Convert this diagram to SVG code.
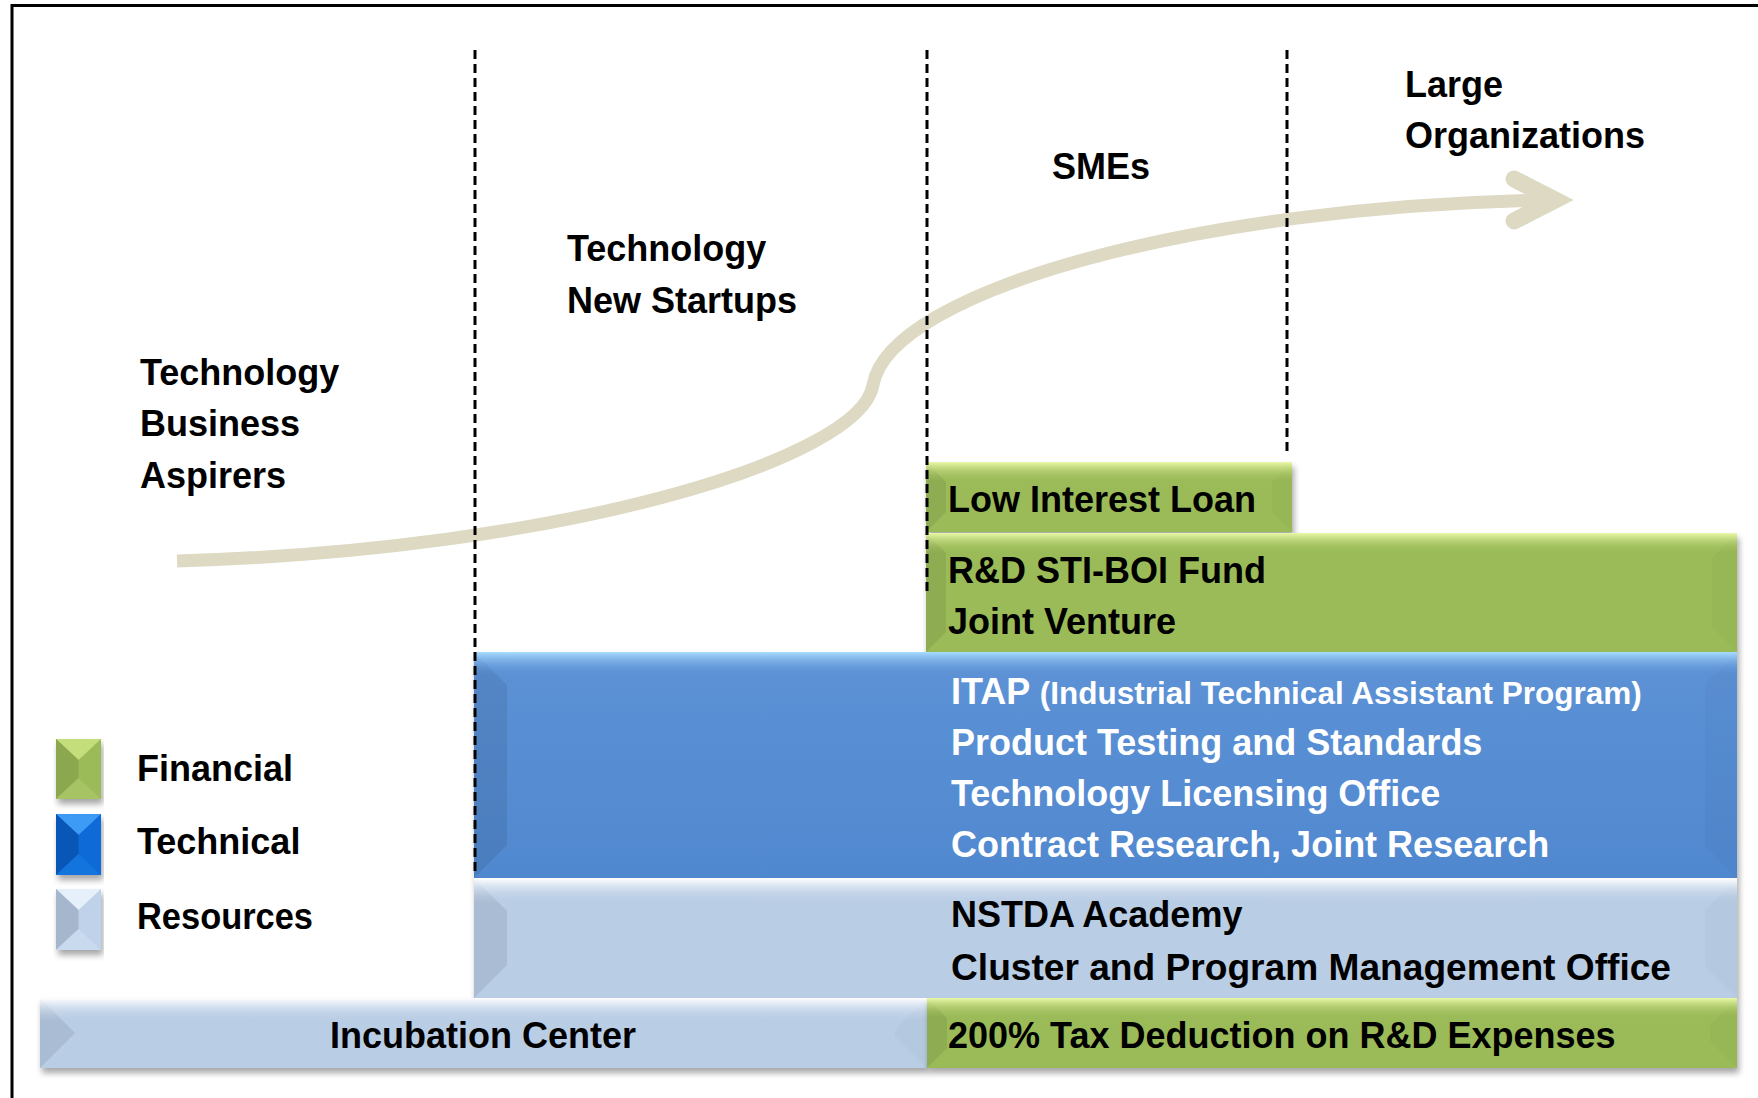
<svg xmlns="http://www.w3.org/2000/svg" width="1758" height="1098" viewBox="0 0 1758 1098">
<defs>
<style>
.t{font-family:"Liberation Sans",Arial,sans-serif;font-weight:bold;font-size:36px;fill:#000}
.w{fill:#fff}
.sm{font-size:31.5px}
.dash{stroke:#000;stroke-width:3;stroke-dasharray:9 5;fill:none}
.curve{stroke:#DDD9C3;stroke-width:13;fill:none}
.lb{fill:#000;fill-opacity:.08}
.rb{fill:#000;fill-opacity:.025}
.frame{stroke:#000;stroke-width:3;fill:none}
</style>
<filter id="sh" x="-5%" y="-20%" width="110%" height="150%">
<feDropShadow dx="2" dy="5" stdDeviation="3" flood-color="#000" flood-opacity="0.35"/>
</filter>
<linearGradient id="topG" x1="0" y1="0" x2="0" y2="1">
<stop offset="0" stop-color="#EAF9A8"/>
<stop offset="1" stop-color="#9BBB59" stop-opacity="0"/>
</linearGradient>
<linearGradient id="topB" x1="0" y1="0" x2="0" y2="1">
<stop offset="0" stop-color="#A8DCFF"/>
<stop offset="1" stop-color="#5B8FD3" stop-opacity="0"/>
</linearGradient>
<linearGradient id="topL" x1="0" y1="0" x2="0" y2="1">
<stop offset="0" stop-color="#FFFFFF"/>
<stop offset="1" stop-color="#B9CDE5" stop-opacity="0"/>
</linearGradient>
<linearGradient id="baseB" x1="0" y1="0" x2="0" y2="1">
<stop offset="0" stop-color="#5D92D6"/>
<stop offset="1" stop-color="#5088CF"/>
</linearGradient>
</defs>

<rect width="1758" height="1098" fill="#fff"/>

<g id="frame">
<line class="frame" x1="11" y1="5.5" x2="1758" y2="5.5"/>
<line class="frame" x1="12" y1="4" x2="12" y2="1098"/>
</g>

<!-- Stage labels -->
<g id="stage-aspirers">
<text class="t" x="140" y="385">Technology</text>
<text class="t" x="140" y="436">Business</text>
<text class="t" x="140" y="488">Aspirers</text>
</g>
<g id="stage-startups">
<text class="t" x="567" y="261">Technology</text>
<text class="t" x="567" y="313">New Startups</text>
</g>
<g id="stage-smes">
<text class="t" x="1052" y="179">SMEs</text>
</g>
<g id="stage-large">
<text class="t" x="1405" y="97">Large</text>
<text class="t" x="1405" y="148">Organizations</text>
</g>

<!-- Boxes -->
<g id="low-interest-loan">
<rect x="926" y="462" width="366" height="70" fill="#9BBB59" filter="url(#sh)"/>
<polygon class="lb" points="926,462 946,482 946,512 926,532"/>
<polygon class="rb" points="1292,462 1272,482 1272,512 1292,532"/>
<rect x="926" y="462" width="366" height="20" fill="url(#topG)"/>
<text class="t" x="948" y="512">Low Interest Loan</text>
</g>

<g id="rd-fund">
<rect x="926" y="533" width="811" height="119" fill="#9BBB59" filter="url(#sh)"/>
<polygon class="lb" points="926,533 946,553 946,632 926,652"/>
<polygon class="rb" points="1737,533 1712,558 1712,627 1737,652"/>
<rect x="926" y="533" width="811" height="20" fill="url(#topG)"/>
<text class="t" x="948" y="583">R&amp;D STI-BOI Fund</text>
<text class="t" x="948" y="634">Joint Venture</text>
</g>

<g id="itap">
<rect x="474" y="652" width="1263" height="226" fill="url(#baseB)" filter="url(#sh)"/>
<polygon class="lb" points="474,652 507,685 507,845 474,878"/>
<polygon class="rb" points="1737,652 1705,684 1705,846 1737,878"/>
<rect x="474" y="652" width="1263" height="24" fill="url(#topB)"/>
<text class="t w" x="951" y="704">ITAP <tspan class="sm">(Industrial Technical Assistant Program)</tspan></text>
<text class="t w" x="951" y="755">Product Testing and Standards</text>
<text class="t w" x="951" y="806">Technology Licensing Office</text>
<text class="t w" x="951" y="857">Contract Research, Joint Research</text>
</g>

<g id="nstda">
<rect x="474" y="878" width="1263" height="120" fill="#B9CDE5" filter="url(#sh)"/>
<polygon class="lb" points="474,878 507,911 507,965 474,998"/>
<polygon class="rb" points="1737,878 1705,910 1705,966 1737,998"/>
<rect x="474" y="878" width="1263" height="26" fill="url(#topL)"/>
<text class="t" x="951" y="927">NSTDA Academy</text>
<text class="t" x="951" y="980" textLength="720" lengthAdjust="spacingAndGlyphs">Cluster and Program Management Office</text>
</g>

<g id="incubation">
<rect x="40" y="998" width="887" height="70" fill="#B9CDE5" filter="url(#sh)"/>
<polygon class="lb" points="40,998 75,1033 40,1068"/>
<polygon class="rb" points="927,998 895,1030 895,1036 927,1068"/>
<rect x="40" y="998" width="887" height="24" fill="url(#topL)"/>
<text class="t" x="483" y="1048" text-anchor="middle">Incubation Center</text>
</g>

<g id="tax-deduction">
<rect x="927" y="998" width="810" height="70" fill="#9BBB59" filter="url(#sh)"/>
<polygon class="lb" points="927,998 947,1018 947,1048 927,1068"/>
<polygon class="rb" points="1737,998 1710,1025 1710,1041 1737,1068"/>
<rect x="927" y="998" width="810" height="20" fill="url(#topG)"/>
<text class="t" x="948" y="1048">200% Tax Deduction on R&amp;D Expenses</text>
</g>

<!-- Legend -->
<g id="legend-financial">
<rect x="56" y="739" width="45" height="60" fill="#9BBB59" filter="url(#sh)"/>
<polygon points="56,739 101,739 78.5,760" fill="#C4DE7C"/>
<polygon points="56,739 78.5,760 78.5,778 56,799" fill="#8BA84F"/>
<polygon points="56,799 101,799 78.5,778" fill="#A6C464"/>
<text class="t" x="137" y="781">Financial</text>
</g>
<g id="legend-technical">
<rect x="56" y="814" width="45" height="61" fill="#0A6BD6" filter="url(#sh)"/>
<polygon points="56,814 101,814 78.5,835" fill="#3D9BF5"/>
<polygon points="56,814 78.5,835 78.5,854 56,875" fill="#0856B5"/>
<polygon points="56,875 101,875 78.5,854" fill="#1474DE"/>
<text class="t" x="137" y="854">Technical</text>
</g>
<g id="legend-resources">
<rect x="56" y="889" width="45" height="61" fill="#BFD2EA" filter="url(#sh)"/>
<polygon points="56,889 101,889 78.5,910" fill="#E6F0FB"/>
<polygon points="56,889 78.5,910 78.5,929 56,950" fill="#A6B6CC"/>
<polygon points="56,950 101,950 78.5,929" fill="#C9DAEE"/>
<text class="t" x="137" y="929" textLength="176" lengthAdjust="spacingAndGlyphs">Resources</text>
</g>

<!-- Connectors -->
<g id="connectors">
<path class="curve" d="M177,561 C560,550 860,460 873,385 C890,290 1200,205 1555,200"/>
<polyline points="1514,179 1555,200 1514,221" fill="none" stroke="#DDD9C3" stroke-width="17" stroke-linecap="round" stroke-linejoin="miter"/>
</g>

<g id="dividers">
<line class="dash" x1="475" y1="50" x2="475" y2="876"/>
<line class="dash" x1="927" y1="50" x2="927" y2="596"/>
<line class="dash" x1="1287" y1="50" x2="1287" y2="455"/>
</g>
</svg>
